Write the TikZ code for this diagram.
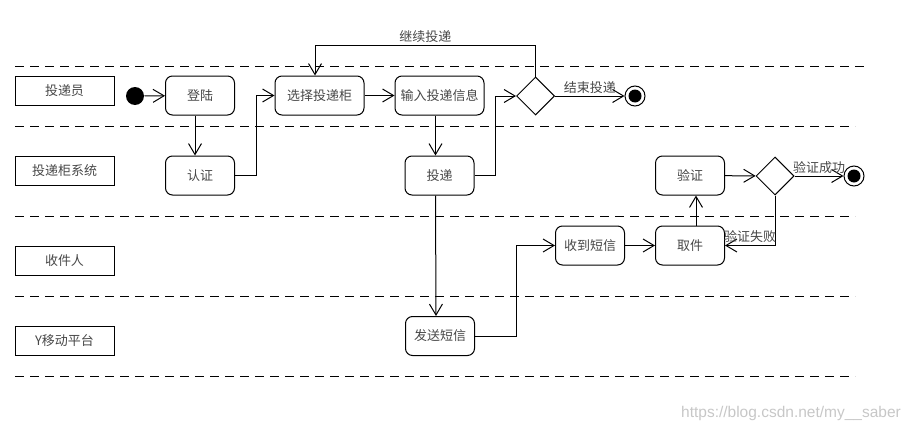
\documentclass[tikz,border=0pt]{standalone}
\usepackage{fontspec}
\setmainfont{Liberation Sans}
\newfontfamily\cjkfont{Noto Sans CJK SC}
\usetikzlibrary{shapes.geometric, arrows.meta, positioning}

\begin{document}
\begin{tikzpicture}[x=1pt, y=-1pt, line width=1pt,
    >={Straight Barb[length=11pt, width=13pt]},
    font={\cjkfont\fontsize{13}{15}\selectfont}, text=black!72,
    lane/.style={draw=black, minimum width=99pt, minimum height=29pt, inner sep=0pt},
    act/.style={draw=black, rounded corners=7pt, minimum width=69pt, minimum height=39pt, inner sep=0pt},
    choice/.style={draw=black, diamond, minimum width=38pt, minimum height=38pt, inner sep=0pt},
    start/.style={circle, fill=black, minimum size=18pt, inner sep=0pt},
    stop/.style={circle, draw=black, minimum size=20pt, inner sep=0pt,
        path picture={\fill[black] (path picture bounding box.center) circle (6.5pt);}},
    lbl/.style={inner sep=2pt},
    sep/.style={dash pattern=on 9pt off 6pt}]
    \useasboundingbox (0,0) rectangle (913,431);

    % swimlanes
    \draw[sep] (15,66) -- (865,66);
    \foreach \y in {126,216,296,376}
        \draw[sep] (15,\y) -- (855,\y);

    \node[lane] (l1) at (64.5,90.5) {投递员};
    \node[lane] (l2) at (64.5,170.5) {投递柜系统};
    \node[lane] (l3) at (64.5,260.5) {收件人};
    \node[lane] (l4) at (64.5,340.5) {Y移动平台};

    % activities
    \node[start] (s) at (135,96) {};
    \node[act] (dl) at (200,95.5) {登陆};
    \node[act] (rz) at (200,175.5) {认证};
    \node[act, minimum width=89pt] (xz) at (319.5,95.5) {选择投递柜};
    \node[act, minimum width=89pt] (sr) at (439.5,95.5) {输入投递信息};
    \node[act] (td) at (439.5,175.5) {投递};
    \node[choice] (c1) at (535.5,96) {};
    \node[stop] (e1) at (635,96) {};
    \node[act] (fs) at (440,336) {发送短信};
    \node[act] (sd) at (590,245.5) {收到短信};
    \node[act] (qj) at (690,245.5) {取件};
    \node[act] (yz) at (690,175.5) {验证};
    \node[choice] (c2) at (775,176) {};
    \node[stop] (e2) at (854,176) {};

    % flow
    \draw[->] (s) -- (dl);
    \draw[->] ([xshift=-5pt]dl.south) -- ([xshift=-5pt]rz.north);
    \draw[->] (rz.east) -- ++(21,0) |- (xz.west);
    \draw[->] (xz) -- (sr);
    \draw[->] ([xshift=-4pt]sr.south) -- ([xshift=-4pt]td.north);
    \draw[->] (td.east) -- ++(21,0) |- (c1.west);
    \draw[->] (c1) -- node[lbl, above] {结束投递} (e1);
    \draw[->] (c1.north) -- ++(0,-31) -| node[lbl, above, pos=0.25] {继续投递} ([xshift=-4.5pt]xz.north);
    \draw[->] ([xshift=-4pt]td.south) -- ([xshift=-4pt]fs.north);
    \draw[->] (fs.east) -- ++(41,0) |- (sd.west);
    \draw[->] (sd) -- (qj);
    \draw[->] ([xshift=6pt]qj.north) -- ([xshift=6pt]yz.south);
    \draw[->] (yz) -- (c2);
    \draw[->] (c2) -- node[lbl, above] {验证成功} (e2);
    \draw[->] (c2.south) |- node[lbl, above, pos=0.75] {验证失败} (qj.east);

    \node[text=black!22, font=\fontsize{15.5}{17}\selectfont] (wm) at (791,413) {https://blog.csdn.net/my\_\_saber};
\end{tikzpicture}
\end{document}
